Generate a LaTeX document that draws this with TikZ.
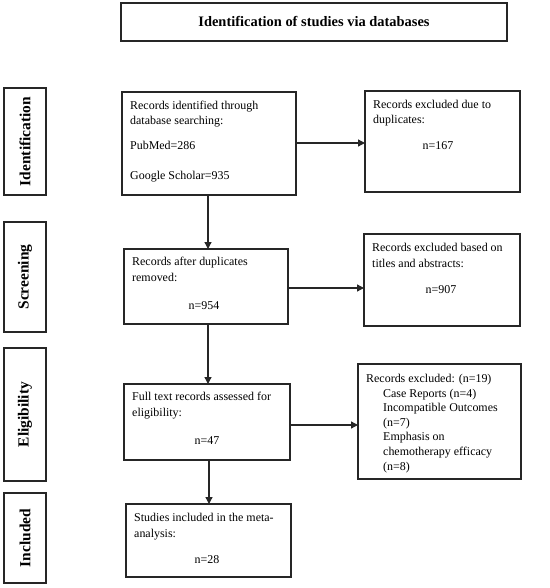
\documentclass[tikz,border=0pt]{standalone}
\usepackage{fontspec}
\setmainfont{Liberation Serif}
\usetikzlibrary{arrows.meta}
\begin{document}
\begin{tikzpicture}[x=1bp,y=-1bp,
  box/.style={draw=black!85, line width=1.4bp, inner sep=0pt, outer sep=0pt},
  side/.style={box, minimum width=42bp},
  lbl/.style={font=\bfseries\fontsize{15.5}{18}\selectfont, rotate=90},
  txt/.style={inner sep=0pt, align=left, font=\fontsize{12}{16}\selectfont},
  arr/.style={draw=black!85, line width=1.3bp, -{Triangle[length=7bp,width=7bp]}}]
\useasboundingbox (0,0) rectangle (550,588);
% title
\node[box, minimum width=386bp, minimum height=38bp, font=\bfseries\fontsize{14.5}{17}\selectfont] (title) at (314,22) {Identification of studies via databases};
% side labels
\node[side, minimum height=107bp] (s1) at (25,141.5) {};
\node[lbl] (s1t) at (s1.center) {Identification};
\node[side, minimum height=110bp] (s2) at (25,277) {};
\node[lbl] (s2t) at (s2.center) {Screening};
\node[side, minimum height=133bp] (s3) at (25,414.5) {};
\node[lbl] (s3t) at (s3.center) {Eligibility};
\node[side, minimum height=90bp] (s4) at (25,538) {};
\node[lbl] (s4t) at (s4.center) {Included};
% main boxes
\node[box, minimum width=174bp, minimum height=103bp] (b1) at (209,143.5) {};
\node[txt, anchor=base west] (b1a) at (130,125) {Records identified through\\database searching:};
\node[txt, anchor=base west] (b1b) at (130,150) {PubMed=286};
\node[txt, anchor=base west] (b1c) at (130,179) {Google Scholar=935};

\node[box, minimum width=164bp, minimum height=75bp] (b2) at (206,286.5) {};
\node[txt, anchor=base west] (b2a) at (132,281) {Records after duplicates\\removed:};
\node[txt, anchor=base] (b2b) at (204,309) {n=954};

\node[box, minimum width=166bp, minimum height=76bp] (b3) at (207,422) {};
\node[txt, anchor=base west] (b3a) at (132,416) {Full text records assessed for\\eligibility:};
\node[txt, anchor=base] (b3b) at (207,444) {n=47};

\node[box, minimum width=165bp, minimum height=73bp] (b4) at (208.5,540.5) {};
\node[txt, anchor=base west] (b4a) at (134,537) {Studies included in the meta-\\analysis:};
\node[txt, anchor=base] (b4b) at (207,563) {n=28};

% exclusion boxes
\node[box, minimum width=155bp, minimum height=101bp] (e1) at (442.5,141.5) {};
\node[txt, anchor=base west] (e1a) at (373,124) {Records excluded due to\\duplicates:};
\node[txt, anchor=base] (e1b) at (438,150) {n=167};

\node[box, minimum width=156bp, minimum height=92bp] (e2) at (442,280) {};
\node[txt, anchor=base west] (e2a) at (372,267) {Records excluded based on\\titles and abstracts:};
\node[txt, anchor=base] (e2b) at (441,293) {n=907};

\node[box, minimum width=163bp, minimum height=115bp] (e3) at (439.5,421.5) {};
\node[txt, anchor=base west, font=\fontsize{12}{14.6}\selectfont] (e3a) at (366,470) {Records excluded: (n=19)\\
\hspace*{17bp}Case Reports (n=4)\\
\hspace*{17bp}Incompatible Outcomes\\
\hspace*{17bp}(n=7)\\
\hspace*{17bp}Emphasis on\\
\hspace*{17bp}chemotherapy efficacy\\
\hspace*{17bp}(n=8)};

% arrows
\draw[arr] ([xshift=-1bp]b1.south) -- ([xshift=-1bp]b1.south |- b2.north);
\draw[arr] (b2.south -| b3.north) ++(1bp,0) coordinate (a2) -- (a2 |- b3.north);
\draw[arr] ([xshift=2bp]b3.south) -- ([xshift=2bp]b3.south |- b4.north);
\draw[arr] ([yshift=0.5bp]b1.east) -- ([yshift=0.5bp]b1.east -| e1.west);
\draw[arr] ([yshift=-1.5bp]b2.east) -- ([yshift=-1.5bp]b2.east -| e2.west);
\draw[arr] ([yshift=-3bp]b3.east) -- ([yshift=-3bp]b3.east -| e3.west);
\end{tikzpicture}
\end{document}
